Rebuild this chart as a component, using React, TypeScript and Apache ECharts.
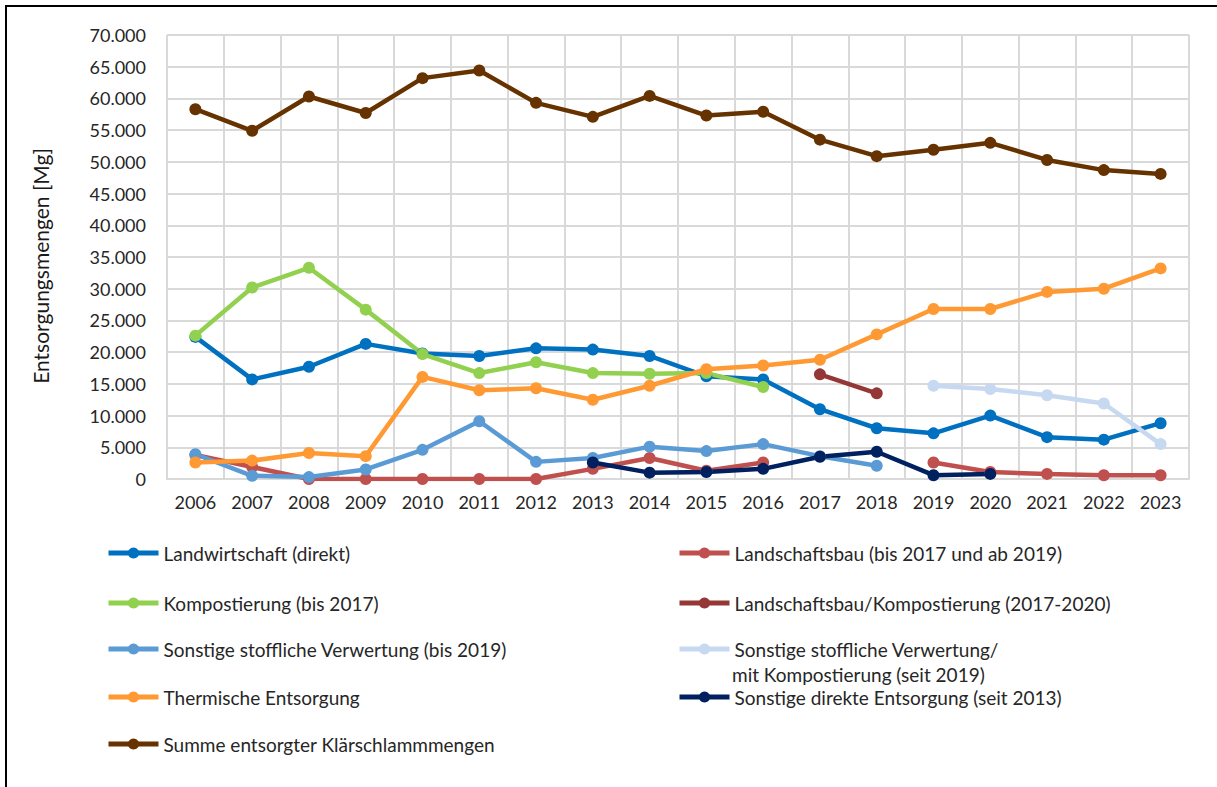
import React, { useEffect, useRef } from "react";
import * as echarts from "echarts";

const years = ["2006","2007","2008","2009","2010","2011","2012","2013","2014","2015","2016","2017","2018","2019","2020","2021","2022","2023"];
const yTicks = { min: 0, max: 70000, interval: 5000 };

const landwirtschaft = [22400, 15700, 17700, 21300, 19800, 19400, 20600, 20400, 19400, 16200, 15700, 11000, 8000, 7200, 10000, 6600, 6200, 8800];
const landschaftsbau = [3800, 1900, 0, 0, 0, 0, 0, 1600, 3300, 1300, 2600, null, null, 2600, 1100, 800, 600, 600];
const kompostierung = [22600, 30200, 33300, 26700, 19700, 16700, 18400, 16700, 16600, 16700, 14500, null, null, null, null, null, null, null];
const landschaftsbauKompost = [null, null, null, null, null, null, null, null, null, null, null, 16500, 13500, null, null, null, null, null];
const sonstigeStofflich = [3900, 500, 300, 1500, 4600, 9100, 2700, 3300, 5100, 4400, 5500, 3600, 2100, null, null, null, null, null];
const sonstigeMitKompost = [null, null, null, null, null, null, null, null, null, null, null, null, null, 14700, 14200, 13200, 11900, 5500];
const thermisch = [2600, 2900, 4100, 3600, 16100, 14000, 14300, 12500, 14700, 17300, 17900, 18800, 22800, 26800, 26800, 29500, 30000, 33200];
const sonstigeDirekt = [null, null, null, null, null, null, null, 2600, 1000, 1100, 1600, 3500, 4300, 600, 800, null, null, null];
const summe = [58300, 54900, 60300, 57700, 63200, 64400, 59300, 57100, 60400, 57300, 57900, 53500, 50900, 51900, 53000, 50300, 48700, 48100];

const smkLine1 = "Sonstige stoffliche Verwertung/";
const smkLine2 = "mit Kompostierung (seit 2019)";

const names = {
  lw: "Landwirtschaft (direkt)",
  lb: "Landschaftsbau (bis 2017 und ab 2019)",
  ko: "Kompostierung (bis 2017)",
  lbk: "Landschaftsbau/Kompostierung (2017-2020)",
  ss: "Sonstige stoffliche Verwertung (bis 2019)",
  smk: smkLine1 + " " + smkLine2,
  th: "Thermische Entsorgung",
  sd: "Sonstige direkte Entsorgung (seit 2013)",
  su: "Summe entsorgter Klärschlammmengen",
};

const seriesDefs = [
  { name: names.lw, data: landwirtschaft, color: "#0070C0" },
  { name: names.lb, data: landschaftsbau, color: "#C0504D" },
  { name: names.ko, data: kompostierung, color: "#92D050" },
  { name: names.lbk, data: landschaftsbauKompost, color: "#953735" },
  { name: names.ss, data: sonstigeStofflich, color: "#5B9BD5" },
  { name: names.smk, data: sonstigeMitKompost, color: "#C6D9F1" },
  { name: names.th, data: thermisch, color: "#FF9933" },
  { name: names.sd, data: sonstigeDirekt, color: "#002060" },
  { name: names.su, data: summe, color: "#663300" },
];

const FONT = "Lato";
const LEGEND_FS = 19;
const TEXT_COLOR = "#262626";

export default function App() {
  const ref = useRef<HTMLDivElement>(null);
  useEffect(() => {
    if (!ref.current) return;
    const chart = echarts.init(ref.current, undefined, { renderer: "svg" });
    const legendItem = (name: string, left: number, rowY: number, formatter?: (n: string) => string) => ({
      data: [name],
      left,
      top: rowY - 12.5,
      orient: "horizontal",
      padding: 0,
      itemWidth: 50,
      itemHeight: 14,
      lineStyle: { width: 5 },
      formatter: formatter,
      textStyle: {
        fontFamily: FONT,
        fontSize: LEGEND_FS,
        color: TEXT_COLOR,
        lineHeight: 25,
      },
    });
    chart.setOption({
      animation: false,
      backgroundColor: "#ffffff",
      grid: { left: 167, right: 28, top: 35, bottom: 308, containLabel: false },
      xAxis: {
        type: "category",
        data: years,
        boundaryGap: true,
        axisLine: { show: true, lineStyle: { color: "#D9D9D9", width: 2 } },
        axisTick: { show: false },
        axisLabel: { fontFamily: FONT, fontSize: 18, color: TEXT_COLOR, margin: 14, interval: 0 },
        splitLine: { show: true, interval: 0, lineStyle: { color: "#D9D9D9", width: 2 } },
      },
      yAxis: {
        type: "value",
        min: yTicks.min,
        max: yTicks.max,
        interval: yTicks.interval,
        axisLine: { show: false },
        axisTick: { show: false },
        axisLabel: {
          fontFamily: FONT,
          fontSize: 18,
          color: TEXT_COLOR,
          margin: 21,
          formatter: (v: number) => (v === 0 ? "0" : `${v / 1000}.000`),
        },
        splitLine: { show: true, lineStyle: { color: "#D9D9D9", width: 2 } },
      },
      legend: [
        legendItem(names.lw, 106, 553),
        legendItem(names.ko, 106, 603),
        legendItem(names.ss, 106, 649),
        legendItem(names.th, 106, 697),
        legendItem(names.su, 106, 744),
        legendItem(names.lb, 677, 553),
        legendItem(names.lbk, 677, 603),
        legendItem(names.smk, 677, 649, () => smkLine1),
        legendItem(names.sd, 677, 697),
      ],
      graphic: [
        {
          type: "rect",
          shape: { x: 6, y: 6, width: 1230, height: 810 },
          style: { fill: "none", stroke: "#000000", lineWidth: 2 },
          silent: true,
        },
        {
          type: "text",
          x: 732,
          y: 674,
          silent: true,
          style: {
            text: smkLine2,
            fontFamily: FONT,
            fontSize: LEGEND_FS,
            fill: TEXT_COLOR,
            textAlign: "left",
            textVerticalAlign: "middle",
          },
        },
        {
          type: "text",
          x: 40,
          y: 266,
          rotation: Math.PI / 2,
          silent: true,
          style: {
            text: "Entsorgungsmengen [Mg]",
            fontFamily: FONT,
            fontSize: 21,
            fill: "#1a1a1a",
            textAlign: "center",
            textVerticalAlign: "middle",
          },
        },
      ],
      series: seriesDefs.map((s) => ({
        name: s.name,
        type: "line",
        data: s.data,
        connectNulls: false,
        symbol: "circle",
        symbolSize: 12,
        lineStyle: { width: 4.5, color: s.color },
        itemStyle: { color: s.color },
        emphasis: { disabled: true },
      })),
    });
    return () => chart.dispose();
  }, []);
  return (
    <div
      ref={ref}
      style={{ position: "absolute", left: 0, top: 0, width: 1217, height: 787, background: "#fff" }}
    />
  );
}
